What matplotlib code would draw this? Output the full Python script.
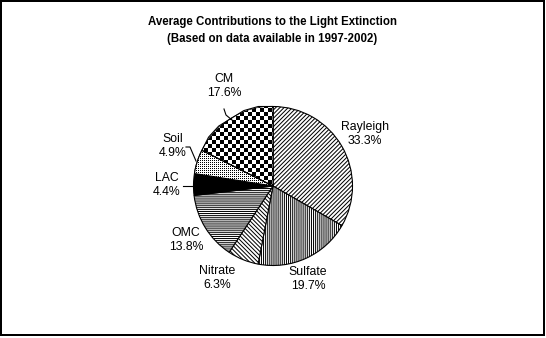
import numpy as np
import matplotlib
matplotlib.use("Agg")
import matplotlib.pyplot as plt
from matplotlib.lines import Line2D
from matplotlib.transforms import IdentityTransform

plt.rcParams['font.family'] = ['Liberation Sans', 'DejaVu Sans']
plt.rcParams['hatch.linewidth'] = 0.72

# contributions, clockwise from 12 o'clock
labels = ['Rayleigh', 'Sulfate', 'Nitrate', 'OMC', 'LAC', 'Soil', 'CM']
shares = [33.3, 19.7, 6.3, 13.8, 4.4, 4.9, 17.6]

W, H = 546, 338
fig = plt.figure(figsize=(W / 100, H / 100), dpi=100)
ax = fig.add_axes([0, 0, 1, 1])

cx, cy, r = 273, H - 186, 79.5

wedges, _ = ax.pie(shares, center=(cx, cy), radius=r, startangle=90,
                   counterclock=False, frame=True,
                   wedgeprops=dict(facecolor='white', edgecolor='black', linewidth=0.8))

hatches = {'Rayleigh': '////////', 'Sulfate': '||||||||',
           'Nitrate': '\\' * 8, 'OMC': '--------'}
for w, name in zip(wedges, labels):
    if name in hatches:
        w.set_hatch(hatches[name])
    elif name == 'LAC':
        w.set_facecolor('black')

# pixel textures for CM (checkerboard) and Soil (fine dots)
yy, xx = np.mgrid[0:H, 0:W]
checker = ((xx // 4 + yy // 4) % 2).astype(float)
dots = 1.0 - ((xx % 2 == 0) & (yy % 2 == 0)).astype(float)
for name, tex in [('CM', checker), ('Soil', dots)]:
    w = wedges[labels.index(name)]
    im = ax.imshow(tex, extent=(0, W, 0, H), origin='upper', cmap='gray',
                   vmin=0, vmax=1, interpolation='nearest', zorder=w.get_zorder() + 0.1)
    im.set_clip_path(w)
    edge = plt.Polygon(w.get_path().vertices, closed=True, transform=w.get_transform(),
                       fill=False, edgecolor='black', linewidth=0.8, zorder=w.get_zorder() + 0.2)
    ax.add_patch(edge)
ax.set_aspect('equal')
ax.set_xlim(0, W)
ax.set_ylim(0, H)
ax.axis('off')

label_pos = {
    'Rayleigh': (365, 134), 'Sulfate': (308, 279), 'Nitrate': (217, 278),
    'OMC': (186, 240), 'LAC': (167, 185), 'Soil': (173, 146), 'CM': (224, 86),
}
for name, v in zip(labels, shares):
    x, y = label_pos[name]
    ax.text(x, H - y, f'{name}\n{v}%', ha='center', va='center', fontsize=8.8,
            linespacing=1.3)

# leader lines
leaders = [
    [(224, 109), (226, 115), (232, 120)],
    [(186, 147), (190, 147), (196, 161)],
    [(183, 186), (194, 186)],
]
for pts in leaders:
    ax.plot([p[0] for p in pts], [H - p[1] for p in pts], color='black', lw=0.8)

ax.text(272, H - 22, 'Average Contributions to the Light Extinction',
        ha='center', va='center', fontsize=8.3, fontweight='bold')
ax.text(272, H - 39, '(Based on data available in 1997-2002)',
        ha='center', va='center', fontsize=8.3, fontweight='bold')

# frame round the whole chart, in pixel coordinates
fx = [1, 544, 544, 1, 1]
fy = [H - 1, H - 1, H - 335, H - 335, H - 1]
fig.add_artist(Line2D(fx, fy, transform=IdentityTransform(), color='black',
                      linewidth=1.44, solid_joinstyle='miter'))

fig.savefig('out.png', dpi=100)
